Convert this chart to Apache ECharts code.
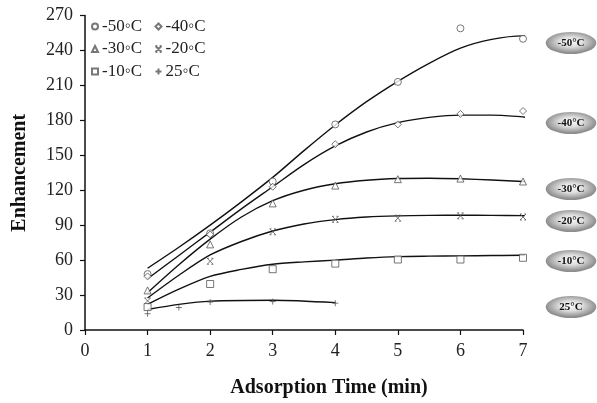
<!DOCTYPE html>
<html>
<head>
<meta charset="utf-8">
<script src="https://cdn.jsdelivr.net/npm/echarts@6/dist/echarts.min.js"></script>
<style>
  html, body { margin: 0; padding: 0; background: #fff; }
  #chart { width: 597px; height: 403px; }
</style>
</head>
<body>
<div id="chart"></div>
<script>
// measured points
const times = [1, 2, 3, 4, 5, 6, 7];
const obs50 = [48, 83, 127.5, 176.5, 213, 259, 250];
const obs40 = [46, 82, 123, 159.5, 176.5, 185.5, 188];
const obs30 = [34, 73.5, 108.7, 124, 129.5, 130, 127.5];
const obs20 = [25, 59, 84.3, 95, 96, 98, 97];
const obs10 = [19.7, 39.5, 52.2, 57, 60.5, 60.5, 62];
const times25 = [1, 1.5, 2, 3, 4];
const obs25 = [14, 19.3, 24, 24.4, 23];

// trend curves
const fitTimes = [1, 1.5, 2, 2.5, 3, 3.5, 4, 4.5, 5, 5.5, 6, 6.5, 7, 7.05];
const fit50 = [53, 71, 90, 110, 131, 154, 176, 196, 213.5, 229, 242, 249.5, 252.5, 252.5];
const fit40 = [44, 64, 84, 104, 123, 142, 158, 170, 178, 182.5, 184.5, 184.5, 183, 182.5];
const fit30 = [32, 56, 78, 97, 111, 120, 125.5, 128.5, 130, 130.3, 129.8, 128.8, 127.5, 127.3];
const fit20 = [27.5, 47, 64.4, 76, 85, 91, 94.8, 97, 98, 98.4, 98.5, 98.4, 98.2, 98.2];
const fit10 = [22, 35, 46, 52, 56.5, 58.5, 60, 61.8, 63, 63.4, 63.6, 63.9, 64.2, 64.2];
const fitTimes25 = [1, 1.5, 2, 3, 4];
const fit25 = [17.6, 22, 24.8, 25.6, 23.5];

const names = ['-50\u25E6C', '-40\u25E6C', '-30\u25E6C', '-20\u25E6C', '-10\u25E6C', '25\u25E6C'];
const tagTexts = ['-50°C', '-40°C', '-30°C', '-20°C', '-10°C', '25°C'];
const xTicks = [0, 1, 2, 3, 4, 5, 6, 7];
const yTicks = [0, 30, 60, 90, 120, 150, 180, 210, 240, 270];

const serif = '"Liberation Serif", "DejaVu Serif", serif';
const pair = (xs, ys) => xs.map((x, i) => [x, ys[i]]);

const obsSets = [
  [times, obs50], [times, obs40], [times, obs30],
  [times, obs20], [times, obs10], [times25, obs25]
];
const fitSets = [
  [fitTimes, fit50], [fitTimes, fit40], [fitTimes, fit30],
  [fitTimes, fit20], [fitTimes, fit10], [fitTimes25, fit25]
];
const symbols = [
  'circle', 'diamond', 'triangle',
  'path://M0,0L10,10M10,0L0,10M0,0L3,0M7,0L10,0M0,10L3,10M7,10L10,10',
  'rect', 'path://M5,0L5,10M0,5L10,5'
];
const symbolSizes = [7, 7, 7, 6, 7, 6];

const series = [];
fitSets.forEach(([xs, ys], i) => {
  series.push({
    name: 'fit' + i,
    type: 'line',
    data: pair(xs, ys),
    smooth: 0.3,
    showSymbol: false,
    silent: true,
    z: 2,
    lineStyle: { color: '#111', width: 1.4 }
  });
});
obsSets.forEach(([xs, ys], i) => {
  series.push({
    name: names[i],
    type: 'scatter',
    data: pair(xs, ys),
    symbol: symbols[i],
    symbolSize: symbolSizes[i],
    z: 3,
    itemStyle: { color: i === 3 || i === 5 ? 'none' : '#fff', borderColor: '#555', borderWidth: 1 }
  });
});

// grey oval tags on the right
const tagY = [43, 123, 189, 221, 261, 307];
const graphic = [];
tagY.forEach((y, i) => {
  graphic.push({
    type: 'circle',
    x: 571, y: y,
    scaleX: 2.3,
    shape: { cx: 0, cy: 0, r: 11 },
    style: {
      fill: {
        type: 'radial', x: 0.5, y: 0.45, r: 0.5,
        colorStops: [
          { offset: 0, color: '#fbfbfb' },
          { offset: 0.45, color: '#dedede' },
          { offset: 1, color: '#8e8e8e' }
        ]
      }
    },
    silent: true
  });
  graphic.push({
    type: 'text',
    x: 571, y: y,
    style: {
      text: tagTexts[i],
      fill: '#111',
      font: 'bold 11px ' + serif,
      textAlign: 'center',
      textVerticalAlign: 'middle'
    },
    silent: true
  });
});

const legendBase = {
  orient: 'vertical',
  top: 16.5,
  itemWidth: 6,
  itemHeight: 6,
  itemGap: 2.5,
  padding: 0,
  textStyle: { fontFamily: serif, fontSize: 17, color: '#222', lineHeight: 20, padding: [0, 0, 0, -1] }
};

const chart = echarts.init(document.getElementById('chart'));
chart.setOption({
  animation: false,
  backgroundColor: '#fff',
  grid: { left: 85, right: 74, top: 15.5, bottom: 70.7 },
  legend: [
    Object.assign({}, legendBase, { left: 91, data: [names[0], names[2], names[4]] }),
    Object.assign({}, legendBase, { left: 153, data: [names[1], names[3], names[5]] })
  ],
  xAxis: {
    type: 'value',
    min: xTicks[0],
    max: xTicks[xTicks.length - 1],
    interval: 1,
    name: 'Adsorption Time (min)',
    nameLocation: 'middle',
    nameGap: 48,
    nameTextStyle: { fontFamily: serif, fontSize: 20, fontWeight: 'bold', color: '#111', padding: [0, 0, 0, 50] },
    axisLine: { lineStyle: { color: '#111', width: 1.5 } },
    axisTick: { length: 5, lineStyle: { color: '#111', width: 1.2 } },
    axisLabel: { fontFamily: serif, fontSize: 18, color: '#222', margin: 12 },
    splitLine: { show: false }
  },
  yAxis: {
    type: 'value',
    min: yTicks[0],
    max: yTicks[yTicks.length - 1],
    interval: 30,
    name: 'Enhancement',
    nameLocation: 'middle',
    nameGap: 55,
    nameTextStyle: { fontFamily: serif, fontSize: 20, fontWeight: 'bold', color: '#111' },
    axisLine: { show: true, lineStyle: { color: '#111', width: 1.5 } },
    axisTick: { show: true, length: 5, lineStyle: { color: '#111', width: 1.2 } },
    axisLabel: { fontFamily: serif, fontSize: 18, color: '#222', margin: 12 },
    splitLine: { show: false }
  },
  graphic: graphic,
  series: series
});
</script>
</body>
</html>
